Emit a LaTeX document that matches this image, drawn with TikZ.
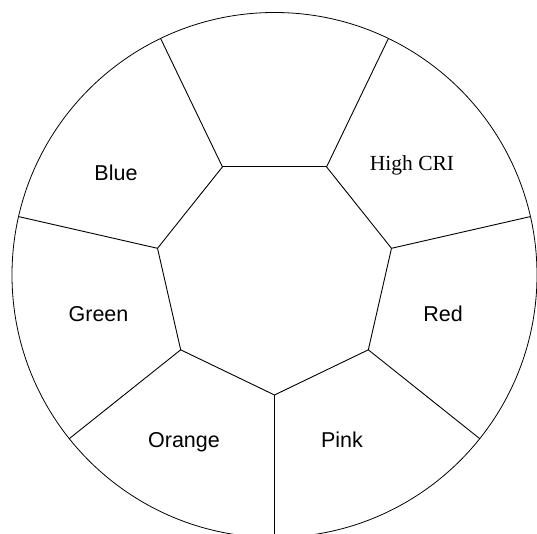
\documentclass[tikz,border=0pt]{standalone}
\usepackage{fontspec}
\setmainfont{Liberation Serif}
\setsansfont{Liberation Sans}
\usepackage{tikz}
\usetikzlibrary{calc}
\tikzstyle{rimline} = [draw=black, line width=0.8pt]
\tikzstyle{wheelline} = [draw=black, line width=0.9pt]
\tikzstyle{segment} = [anchor=base, text=black, inner sep=0pt, font=\sffamily\fontsize{21.5}{25}\selectfont]
\tikzstyle{serifsegment} = [anchor=base, text=black, inner sep=0pt, font=\rmfamily\fontsize{21.5}{25}\selectfont]

\begin{document}
\begin{tikzpicture}[x=1pt, y=1pt]
    \useasboundingbox (-274.5,-259) rectangle (262.5,275);
    \clip (-274.5,-259) rectangle (262.5,275);
    \coordinate (hub) at (0,0);
    \draw[rimline] (hub) circle (262.5);

    % inner heptagon and spokes
    \foreach \i in {0,...,6} {
        \coordinate (h\i) at ({-90+\i*360/7}:120);
        \coordinate (o\i) at ({-90+\i*360/7}:262.5);
    }
    \foreach \i [evaluate=\i as \j using {int(mod(\i+1,7))}] in {0,...,6} {
        \draw[wheelline] (h\i) -- (h\j);
        \draw[wheelline] (h\i) -- (o\i);
    }

    \node[serifsegment] (highcri) at (137.5,104.5) {High CRI};
    \node[segment] (red) at (168.5,-47) {Red};
    \node[segment] (pink) at (67.5,-172) {Pink};
    \node[segment] (orange) at (-90.5,-172) {Orange};
    \node[segment] (green) at (-176,-47) {Green};
    \node[segment] (blue) at (-158.5,94) {Blue};
\end{tikzpicture}
\end{document}
